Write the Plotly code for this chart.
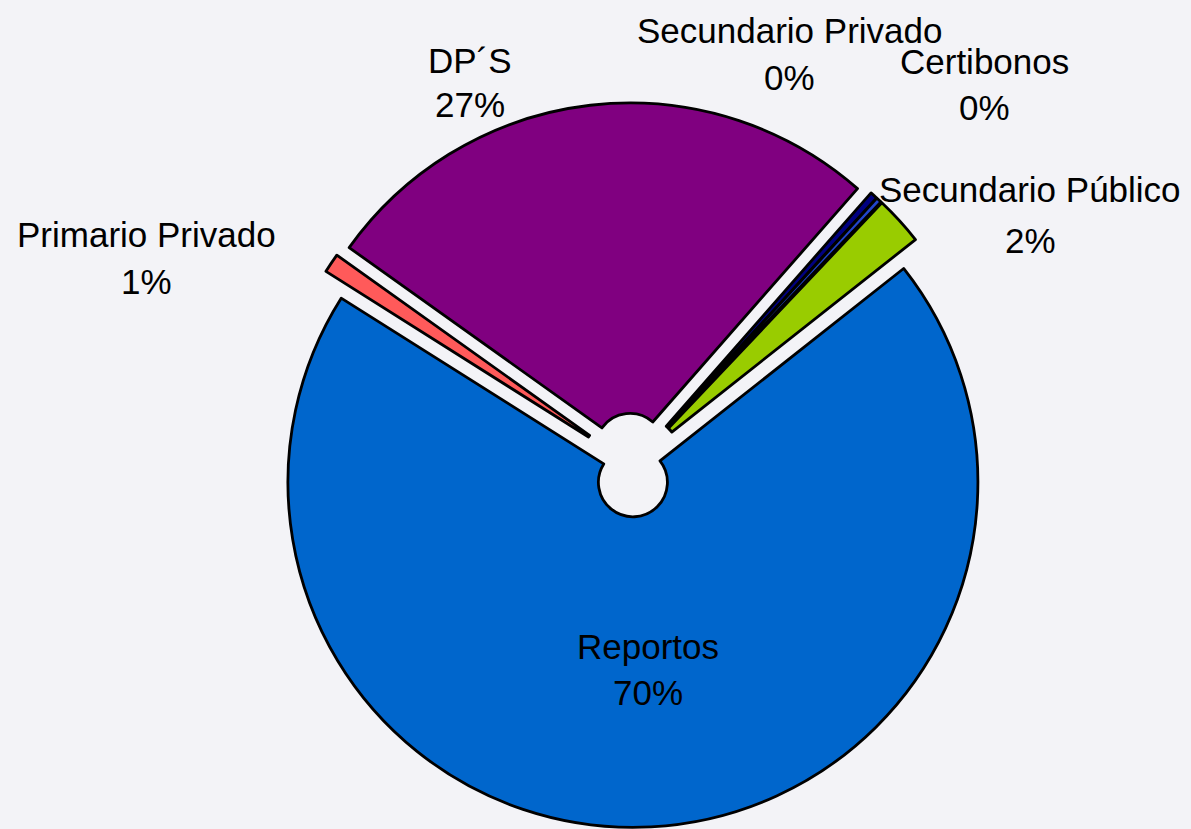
import plotly.graph_objects as go

# Data
labels = ["Reportos", "Primario Privado", "DP´S", "Secundario Privado", "Certibonos", "Secundario Público"]
values = [69.6, 0.9, 26.6, 0.35, 0.25, 2.3]
colors = ["#0066CC", "#FF5A5A", "#800080", "#000080", "#2244CC", "#99CC00"]

W, H = 1191, 829
total = sum(values)
pcts = [int(v / total * 100 + 0.5) for v in values]

# label placement (pixel centers for name line and percent line)
label_pos = {
    "Reportos": (648, 646, 692),
    "Primario Privado": (146, 235, 282),
    "DP´S": (470, 60, 105),
    "Secundario Privado": (789, 30, 77),
    "Certibonos": (985, 61, 107),
    "Secundario Público": (1030, 190, 240),
}

fig = go.Figure(go.Pie(
    labels=labels,
    values=values,
    sort=False,
    direction="clockwise",
    rotation=51.7,
    pull=[0.05] * len(values),
    hole=0.1,
    marker=dict(colors=colors, line=dict(color="black", width=2.8)),
    textinfo="none",
    hoverinfo="label+percent",
    showlegend=False,
    domain=dict(x=[0.2265, 0.8348], y=[0.002, 0.876]),
))

annotations = []
for lab, p in zip(labels, pcts):
    x, y1, y2 = label_pos[lab]
    for txt, yy in ((lab, y1), (f"{p}%", y2)):
        annotations.append(dict(
            text=txt, x=x / W, y=1 - yy / H, xref="paper", yref="paper",
            xanchor="center", yanchor="middle", showarrow=False,
            font=dict(family="Liberation Sans, Arial, sans-serif", size=35, color="black"),
        ))

fig.update_layout(
    width=W, height=H,
    margin=dict(l=0, r=0, t=0, b=0),
    paper_bgcolor="#F3F3F7",
    plot_bgcolor="#F3F3F7",
    annotations=annotations,
)

fig.write_html("out.html", config={"displayModeBar": False},
               post_script="document.body.style.margin='0';")
